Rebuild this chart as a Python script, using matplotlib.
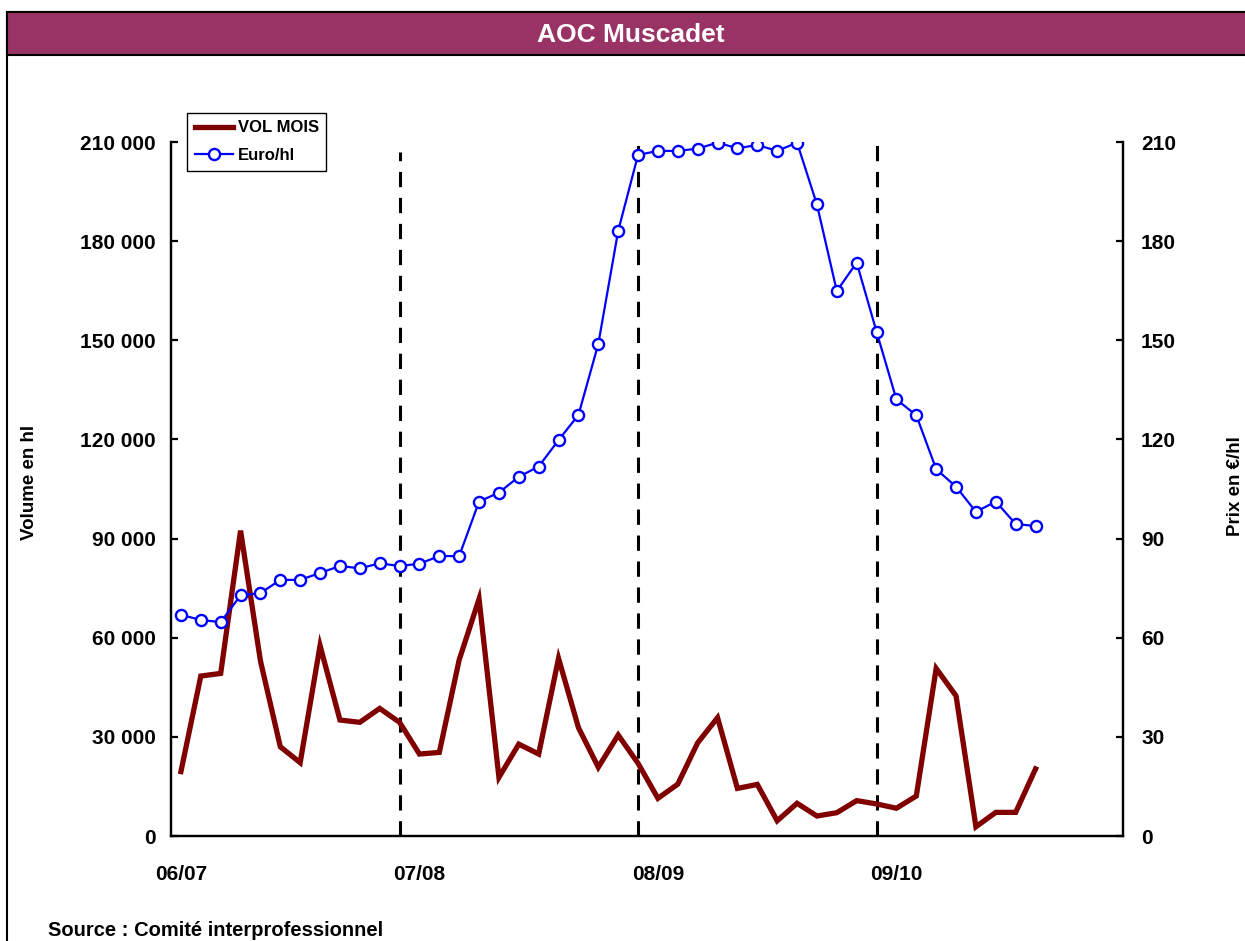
import matplotlib
matplotlib.use('Agg')
import matplotlib.pyplot as plt
from matplotlib.patches import Rectangle
from matplotlib.ticker import FuncFormatter

plt.rcParams['font.family'] = ['Liberation Sans', 'DejaVu Sans']
plt.rcParams['font.weight'] = 'bold'

# ---- data ----
months = list(range(44))
vol_mois = [19500, 48400, 49200, 92400, 53000, 27000, 22200, 57600, 35100, 34400, 38600, 34400,
            24800, 25300, 53300, 71700, 17750, 27800, 24800, 53750, 32800, 20800, 30560, 22000,
            11400, 15700, 28200, 35800, 14400, 15600, 4600, 9900, 6050, 7050, 10700, 9700,
            8400, 12100, 50700, 42400, 2800, 7150, 7150, 20300]
euro_hl = [66.9, 65.4, 64.7, 72.8, 73.5, 77.5, 77.5, 79.6, 81.7, 81.0, 82.5, 81.7,
           82.4, 84.7, 84.7, 101.2, 103.9, 108.7, 111.8, 119.8, 127.4, 148.9, 183.1, 206.1,
           207.3, 207.3, 208.0, 209.8, 208.1, 209.1, 207.3, 209.8, 191.1, 164.9, 173.5, 152.6,
           132.1, 127.3, 111.0, 105.7, 98.1, 101.2, 94.4, 93.8]
season_labels = ['06/07', '07/08', '08/09', '09/10']
season_label_pos = [0, 12, 24, 36]
campaign_marks = [11, 23, 35]
campaign_mark_tops = [207000, 211000, 211000]
vol_ticks = list(range(0, 210001, 30000))
price_ticks = list(range(0, 211, 30))

W, H = 1245, 941
fig = plt.figure(figsize=(W / 100, H / 100), dpi=100)
fig.patch.set_facecolor('white')

# outer frame and title bar
fig.add_artist(Rectangle((7 / W, -0.1), 1.2, 1 - 12 / H + 0.1, transform=fig.transFigure,
                         facecolor='none', edgecolor='black', lw=1.5))
fig.add_artist(Rectangle((7 / W, 1 - 55 / H), 1.2, 43 / H, transform=fig.transFigure,
                         facecolor='#993366', edgecolor='black', lw=1.5))
fig.text(631 / W, 1 - 35 / H, 'AOC Muscadet', color='white', fontsize=19, fontweight='bold',
         ha='center', va='center')

ax = fig.add_axes([171 / W, 1 - 836 / H, (1123 - 171) / W, (836 - 142) / H])
ax.set_xlim(-0.5, 47.4)
ax.set_ylim(0, 210000)

for xm, top in zip(campaign_marks, campaign_mark_tops):
    ax.plot([xm, xm], [0, top], color='black', lw=2.2, linestyle=(0, (5, 3.5)),
            zorder=1, clip_on=False)

l1, = ax.plot(months, vol_mois, color='#800000', lw=3.8, zorder=3, solid_joinstyle='miter')

ax2 = ax.twinx()
ax2.set_ylim(0, 210)
l2, = ax2.plot(months, euro_hl, color='#0000FF', lw=1.6, marker='o', markersize=8,
               markerfacecolor='white', markeredgecolor='#0000FF', markeredgewidth=1.7, zorder=4)

for a in (ax, ax2):
    a.spines['top'].set_visible(False)
    for s in a.spines.values():
        s.set_linewidth(1.6)
        s.set_color('black')

ax.set_yticks(vol_ticks)
ax.yaxis.set_major_formatter(FuncFormatter(lambda v, p: f'{int(v):,}'.replace(',', ' ')))
ax.tick_params(axis='y', direction='in', length=5, width=1.6, pad=11, labelsize=15)
ax2.set_yticks(price_ticks)
ax2.tick_params(axis='y', direction='in', length=5, width=1.6, pad=13, labelsize=15)

ax.set_xticks(season_label_pos)
ax.set_xticklabels(season_labels)
ax.tick_params(axis='x', length=0, pad=21, labelsize=15)

for lab in ax.get_yticklabels() + ax2.get_yticklabels() + ax.get_xticklabels():
    lab.set_fontweight('bold')

fig.text(29 / W, 1 - 482 / H, 'Volume en hl', rotation=90, fontsize=13.5, fontweight='bold',
         ha='center', va='center')
fig.text(1236 / W, 1 - 486 / H, 'Prix en €/hl', rotation=90, fontsize=13.5, fontweight='bold',
         ha='center', va='center')
fig.text(48 / W, 1 - 931 / H, 'Source : Comité interprofessionnel', fontsize=14.5,
         fontweight='bold', ha='left', va='center')

leg = ax2.legend([l1, l2], ['VOL MOIS', 'Euro/hl'], loc='upper left',
                 bbox_to_anchor=(187 / W, 1 - 113 / H), bbox_transform=fig.transFigure,
                 fancybox=False, framealpha=1, edgecolor='black', borderaxespad=0,
                 prop={'size': 12, 'weight': 'bold'}, handlelength=2.3, handletextpad=0.3,
                 labelspacing=0.75, borderpad=0.45)
leg.get_frame().set_linewidth(1.0)

fig.savefig('out.png', dpi=100)
